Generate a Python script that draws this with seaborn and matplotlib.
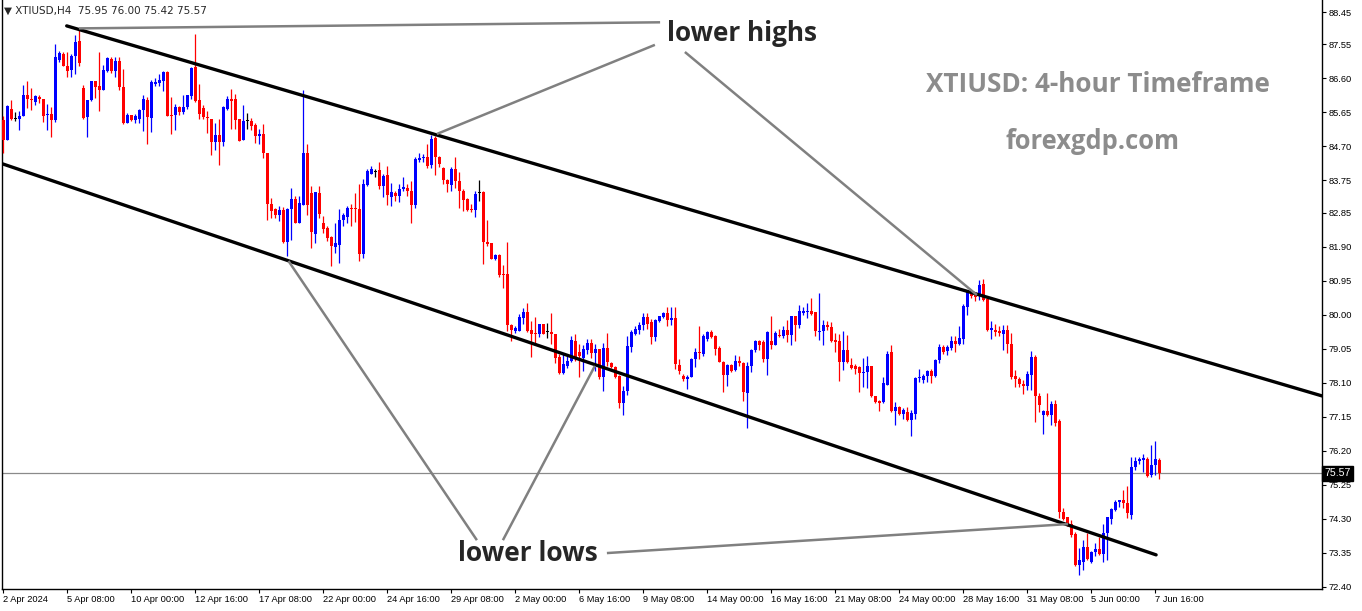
import matplotlib
matplotlib.use("Agg")
import matplotlib.pyplot as plt
import matplotlib.transforms as mtransforms
import seaborn as sns
import numpy as np

# XTIUSD H4 candles, 2 Apr 2024 - 7 Jun 2024 (one value per 4-hour bar)
opens = [85.43, 84.88, 85.75, 85.47, 85.48, 85.55, 86.15, 86.04, 85.93, 86.07,
         86.04, 85.57, 85.62, 85.44, 87.13, 87.29, 86.96, 86.83, 87.22, 87.66,
         86.33, 85.52, 86.00, 86.52, 86.38, 86.29, 86.80, 87.15, 86.81, 87.08,
         86.35, 85.37, 85.57, 85.45, 85.48, 85.72, 86.01, 85.49, 86.45, 86.46,
         86.53, 86.77, 85.59, 85.57, 85.81, 85.66, 85.80, 86.10, 86.92, 85.99,
         85.78, 85.53, 85.48, 84.83, 85.01, 84.83, 85.74, 86.04, 86.04, 85.47,
         84.88, 85.42, 85.42, 85.30, 84.99, 85.04, 84.53, 83.08, 82.94, 82.78,
         82.92, 82.04, 82.94, 83.24, 82.55, 83.06, 84.53, 83.41, 82.25, 83.39,
         82.55, 82.42, 82.16, 81.89, 81.94, 82.64, 82.73, 82.99, 82.99, 82.94,
         81.69, 83.62, 83.94, 83.99, 84.04, 83.60, 83.90, 83.29, 83.41, 83.32,
         83.52, 83.55, 83.47, 83.06, 84.32, 84.37, 84.41, 84.17, 84.93, 84.42,
         84.11, 83.75, 83.62, 84.06, 83.74, 83.47, 83.22, 82.94, 82.92, 83.41,
         83.43, 82.03, 81.99, 81.55, 81.66, 81.15, 81.13, 79.70, 79.54, 79.54,
         79.90, 80.08, 79.56, 79.50, 79.47, 79.75, 79.52, 79.52, 79.45, 78.81,
         78.38, 78.56, 78.72, 79.26, 78.95, 78.78, 79.00, 79.22, 78.94, 79.03,
         78.26, 79.06, 78.65, 78.54, 78.30, 77.53, 77.86, 79.09, 79.47, 79.58,
         79.70, 79.93, 79.79, 79.38, 79.82, 79.93, 80.05, 79.84, 79.91, 78.60,
         78.30, 78.20, 78.25, 78.76, 78.95, 78.90, 79.33, 79.52, 79.40, 79.07,
         78.69, 78.32, 78.60, 78.45, 78.70, 78.65, 77.81, 78.58, 79.00, 79.26,
         79.23, 78.77, 79.26, 79.16, 79.44, 79.40, 79.58, 79.44, 79.95, 79.72,
         80.05, 80.07, 80.11, 80.07, 79.51, 79.54, 79.70, 79.65, 79.28, 79.26,
         78.67, 79.00, 78.60, 78.56, 78.53, 78.37, 78.39, 78.56, 77.72, 77.58,
         77.55, 78.04, 78.95, 77.30, 77.41, 77.23, 77.28, 77.05, 77.23, 78.22,
         78.18, 78.28, 78.42, 78.30, 78.73, 79.09, 78.98, 79.07, 79.27, 79.19,
         79.33, 80.22, 80.61, 80.56, 80.51, 80.86, 80.44, 79.58, 79.58, 79.55,
         79.47, 79.58, 79.19, 78.30, 78.21, 78.06, 78.00, 78.32, 78.82, 77.72,
         77.21, 77.32, 77.21, 77.51, 77.02, 74.48, 74.34, 74.15, 73.88, 73.01,
         73.10, 73.50, 73.08, 73.36, 73.46, 73.32, 73.90, 74.30, 74.53, 74.76,
         74.81, 74.75, 74.41, 75.74, 75.90, 75.95, 75.98, 75.53, 75.81, 75.95]

highs = [85.55, 85.85, 85.99, 85.66, 85.69, 86.43, 86.54, 86.34, 86.13, 86.13,
         86.04, 85.90, 85.81, 87.57, 87.38, 87.34, 87.35, 87.29, 87.82, 88.02,
         86.43, 85.99, 86.54, 86.53, 87.35, 86.99, 87.20, 87.20, 87.20, 87.20,
         86.87, 85.64, 85.59, 85.61, 85.74, 86.15, 86.09, 86.57, 86.61, 86.72,
         86.82, 86.80, 86.09, 85.88, 85.83, 86.13, 86.15, 86.92, 87.83, 86.44,
         85.85, 85.69, 85.48, 85.36, 85.47, 85.83, 86.11, 86.30, 86.17, 85.47,
         85.85, 85.64, 85.50, 85.37, 85.18, 85.34, 84.53, 83.27, 82.99, 83.04,
         83.01, 82.99, 83.53, 83.31, 83.31, 86.27, 84.76, 83.59, 83.43, 83.59,
         82.76, 82.48, 82.20, 82.55, 82.94, 82.83, 83.04, 83.08, 83.41, 83.64,
         83.78, 84.06, 84.15, 84.08, 84.27, 83.92, 84.15, 83.69, 83.46, 83.64,
         83.85, 83.66, 83.74, 84.41, 84.51, 84.50, 84.78, 85.01, 84.99, 84.43,
         84.13, 83.78, 84.13, 84.41, 83.99, 83.52, 83.27, 83.08, 83.46, 83.75,
         83.46, 82.64, 82.01, 81.69, 81.69, 81.38, 82.03, 79.73, 79.68, 80.03,
         80.18, 80.32, 79.82, 79.93, 79.75, 79.75, 79.77, 80.04, 79.45, 78.89,
         78.89, 78.91, 79.40, 79.45, 79.17, 79.15, 79.33, 79.31, 79.19, 79.05,
         79.22, 79.48, 78.69, 78.58, 78.32, 78.02, 79.41, 79.56, 79.69, 79.79,
         80.05, 80.05, 79.88, 79.88, 79.97, 80.08, 80.22, 80.21, 80.21, 78.77,
         78.34, 78.32, 78.79, 79.07, 79.68, 79.46, 79.54, 79.56, 79.44, 79.12,
         78.72, 78.63, 78.63, 78.88, 78.86, 78.67, 78.68, 79.05, 79.28, 79.30,
         79.28, 79.54, 79.95, 79.54, 79.60, 79.68, 79.86, 79.97, 79.95, 80.26,
         80.21, 80.33, 80.47, 80.08, 80.61, 79.86, 79.82, 79.79, 79.49, 79.46,
         79.55, 79.44, 78.79, 78.62, 78.56, 78.79, 78.86, 78.58, 77.74, 77.63,
         78.26, 78.98, 79.14, 77.56, 77.44, 77.39, 77.42, 77.35, 78.26, 78.49,
         78.34, 78.46, 78.48, 78.76, 79.19, 79.14, 79.16, 79.41, 79.41, 79.68,
         80.30, 80.68, 80.68, 80.63, 80.96, 81.00, 80.47, 79.82, 79.74, 79.69,
         79.72, 79.70, 79.49, 78.46, 78.26, 78.18, 78.42, 78.98, 78.88, 77.81,
         77.35, 77.81, 77.58, 77.61, 77.08, 74.60, 74.36, 74.27, 73.92, 73.48,
         73.71, 73.90, 73.40, 73.62, 73.80, 74.16, 74.36, 74.61, 74.83, 74.83,
         75.09, 75.22, 76.02, 76.02, 76.02, 76.12, 76.02, 76.37, 76.46, 76.00]

lows = [84.52, 84.88, 85.44, 85.41, 85.17, 85.55, 85.78, 85.73, 85.85, 85.92,
        85.38, 85.16, 84.96, 85.38, 87.06, 86.95, 86.64, 86.64, 86.73, 86.95,
        85.48, 84.96, 85.97, 86.06, 85.69, 86.29, 86.79, 86.76, 86.64, 86.28,
        85.32, 85.36, 85.41, 85.35, 85.35, 85.13, 84.76, 85.11, 86.39, 86.38,
        86.25, 85.55, 85.04, 85.15, 85.59, 85.62, 85.75, 86.02, 85.94, 85.48,
        85.47, 85.09, 84.45, 84.61, 84.17, 84.71, 85.71, 85.20, 85.20, 84.85,
        84.88, 85.18, 85.15, 84.81, 84.76, 84.39, 82.64, 82.71, 82.71, 82.61,
        82.01, 81.64, 82.10, 82.55, 82.55, 83.06, 82.78, 81.86, 81.99, 82.71,
        82.29, 82.06, 81.36, 81.73, 81.45, 82.48, 82.55, 82.48, 82.59, 81.50,
        81.59, 83.60, 83.92, 83.85, 83.50, 83.29, 83.06, 83.04, 83.18, 83.15,
        83.46, 83.32, 82.55, 82.99, 84.27, 84.27, 84.11, 84.11, 83.90, 84.13,
        83.64, 83.44, 83.46, 83.55, 82.99, 82.90, 82.90, 82.88, 82.73, 83.18,
        81.42, 81.92, 81.55, 81.52, 81.05, 80.75, 79.54, 79.26, 79.50, 79.54,
        79.73, 79.52, 78.81, 79.17, 79.37, 79.47, 79.36, 79.17, 78.66, 78.35,
        78.35, 78.52, 78.68, 78.70, 78.26, 78.42, 78.89, 78.80, 78.42, 78.19,
        77.88, 78.56, 78.50, 78.23, 77.39, 77.19, 77.75, 78.95, 79.42, 79.46,
        79.56, 79.60, 79.18, 79.27, 79.80, 79.91, 79.68, 79.72, 78.48, 78.34,
        78.14, 77.93, 78.25, 78.53, 78.76, 78.84, 79.26, 79.35, 78.88, 78.67,
        77.84, 78.00, 78.40, 78.42, 78.56, 77.58, 76.83, 78.39, 78.95, 79.02,
        78.68, 78.31, 79.05, 79.16, 79.38, 79.35, 79.24, 79.16, 79.26, 79.63,
        80.00, 79.91, 80.00, 79.41, 79.28, 79.16, 79.58, 79.23, 78.95, 78.14,
        78.46, 78.65, 78.48, 78.35, 77.83, 77.97, 77.95, 77.70, 77.53, 77.30,
        77.53, 78.04, 77.27, 76.93, 77.19, 77.09, 77.02, 76.60, 77.09, 78.11,
        78.09, 78.12, 78.09, 78.26, 78.65, 78.91, 78.88, 79.02, 78.96, 79.14,
        79.19, 79.98, 80.47, 80.39, 80.42, 80.39, 79.55, 79.33, 79.41, 79.41,
        79.02, 78.93, 78.20, 77.97, 77.97, 77.79, 77.90, 77.89, 76.99, 77.28,
        76.67, 77.16, 76.91, 76.88, 74.32, 74.27, 74.10, 73.78, 72.99, 72.73,
        72.87, 73.15, 73.06, 73.26, 73.29, 73.10, 73.15, 74.16, 74.51, 74.64,
        74.60, 74.32, 74.30, 75.67, 75.83, 75.60, 75.46, 75.46, 75.51, 75.42]

closes = [84.88, 85.83, 85.47, 85.47, 85.54, 86.13, 86.04, 85.99, 86.10, 86.02,
          85.55, 85.59, 85.44, 87.19, 87.31, 86.96, 86.82, 87.22, 87.63, 87.03,
          85.50, 85.99, 86.53, 86.35, 86.29, 86.83, 87.17, 86.80, 87.08, 86.35,
          85.37, 85.57, 85.44, 85.54, 85.72, 86.04, 85.52, 86.49, 86.50, 86.55,
          86.77, 85.55, 85.55, 85.79, 85.66, 85.80, 86.13, 86.88, 85.97, 85.60,
          85.53, 85.50, 84.83, 85.01, 84.83, 85.80, 86.04, 85.97, 85.44, 84.85,
          85.41, 85.42, 85.27, 84.99, 85.04, 84.53, 83.10, 82.91, 82.78, 82.92,
          82.04, 82.94, 83.24, 82.55, 83.11, 84.53, 83.06, 82.31, 83.43, 82.81,
          82.39, 82.14, 81.92, 81.99, 82.64, 82.79, 82.99, 82.94, 82.94, 81.69,
          83.64, 84.01, 84.06, 83.99, 83.60, 83.88, 83.34, 83.43, 83.32, 83.52,
          83.57, 83.46, 83.06, 84.34, 84.39, 84.41, 84.16, 84.90, 84.41, 84.22,
          83.75, 83.64, 84.06, 83.74, 83.47, 83.20, 82.92, 82.92, 83.38, 83.41,
          82.03, 81.98, 81.55, 81.66, 81.10, 81.11, 79.70, 79.57, 79.62, 79.93,
          80.08, 79.54, 79.47, 79.45, 79.75, 79.47, 79.52, 79.45, 78.80, 78.38,
          78.61, 78.72, 79.28, 78.77, 78.84, 79.03, 79.22, 78.94, 79.03, 78.26,
          79.08, 78.68, 78.53, 78.25, 77.53, 77.88, 79.12, 79.51, 79.61, 79.72,
          79.93, 79.75, 79.38, 79.86, 79.95, 80.06, 79.84, 79.91, 78.62, 78.44,
          78.20, 78.25, 78.77, 78.95, 78.93, 79.40, 79.52, 79.38, 79.05, 78.67,
          78.32, 78.60, 78.44, 78.70, 78.65, 77.83, 78.58, 79.02, 79.26, 79.16,
          78.77, 79.51, 79.16, 79.49, 79.40, 79.56, 79.44, 79.95, 79.72, 80.11,
          80.09, 80.10, 80.02, 79.54, 79.54, 79.72, 79.65, 79.27, 79.23, 78.67,
          79.00, 78.67, 78.51, 78.49, 78.37, 78.39, 78.58, 77.72, 77.55, 77.53,
          78.09, 78.91, 77.32, 77.42, 77.23, 77.33, 77.05, 77.25, 78.23, 78.25,
          78.28, 78.42, 78.30, 78.74, 79.10, 78.95, 79.09, 79.27, 79.19, 79.35,
          80.23, 80.65, 80.51, 80.50, 80.84, 80.42, 79.58, 79.63, 79.51, 79.49,
          79.58, 79.18, 78.26, 78.21, 78.06, 78.00, 78.35, 78.82, 77.72, 77.49,
          77.32, 77.21, 77.51, 76.97, 74.50, 74.29, 74.16, 73.85, 73.01, 73.15,
          73.50, 73.17, 73.37, 73.46, 73.32, 73.90, 74.34, 74.58, 74.78, 74.81,
          74.74, 74.46, 75.74, 75.92, 75.97, 75.99, 75.50, 75.81, 75.98, 75.57]

# time axis labels, one every 16 bars
time_labels = ["2 Apr 2024", "5 Apr 08:00", "10 Apr 00:00", "12 Apr 16:00",
               "17 Apr 08:00", "22 Apr 00:00", "24 Apr 16:00", "29 Apr 08:00",
               "2 May 00:00", "6 May 16:00", "9 May 08:00", "14 May 00:00",
               "16 May 16:00", "21 May 08:00", "24 May 00:00", "28 May 16:00",
               "31 May 08:00", "5 Jun 00:00", "7 Jun 16:00"]
price_ticks = [88.45, 87.55, 86.60, 85.65, 84.70, 83.75, 82.85, 81.90, 80.95,
               80.00, 79.05, 78.10, 77.15, 76.20, 75.25, 74.30, 73.35, 72.40]
last_price = 75.57

# channel lines (bar index, price)
upper_bar = [15.85, 329.7]
upper_price = [88.07, 77.73]
lower_bar = [-0.33, 288.2]
lower_price = [84.22, 73.29]

# callout lines (bar index, price)
high_calls = [([18.9, 164.2], [88.00, 88.17]),
              ([162.9, 108.4], [87.54, 85.05]),
              ([170.4, 243.4], [87.34, 80.55])]
low_calls = [([118.4, 71.3], [73.70, 81.50]),
             ([124.9, 147.9], [73.70, 78.57]),
             ([150.9, 266.2], [73.34, 74.15])]

sns.set_theme(style="white")
plt.rcParams["font.family"] = ["DejaVu Sans"]

o = np.array(opens)
h = np.array(highs)
l = np.array(lows)
c = np.array(closes)
idx = np.arange(len(c))

cols = np.where(c > o, "#0000FF", np.where(c < o, "#FF0000", "#000000"))

fig = plt.figure(figsize=(13.62, 6.11), dpi=100)
ax = fig.add_axes([2 / 1362, 22 / 611, 1320 / 1362, 589 / 611])

ax.vlines(idx, l, h, colors=cols, linewidth=0.9, zorder=3)
body = np.maximum(np.abs(c - o), 0.03)
ax.bar(idx, body, bottom=np.minimum(o, c), width=0.72, color=cols,
       linewidth=0, zorder=4)

# last price line
ax.axhline(last_price, color="#8a8a8a", linewidth=0.9, zorder=1)

# channel
sns.lineplot(x=upper_bar, y=upper_price, color="black", linewidth=2.4, ax=ax, zorder=5)
sns.lineplot(x=lower_bar, y=lower_price, color="black", linewidth=2.4, ax=ax, zorder=5)

for xs, ys in high_calls + low_calls:
    ax.plot(xs, ys, color="#808080", linewidth=1.8, zorder=6, solid_capstyle="butt")

ax.text(184.7, 87.87, "lower highs", fontsize=18.8, fontweight="bold",
        family="Open Sans", ha="center", va="center", zorder=7)
ax.text(131.2, 73.34, "lower lows", fontsize=19.0, fontweight="bold",
        family="Open Sans", ha="center", va="center", zorder=7)
ax.text(273.6, 86.42, "XTIUSD: 4-hour Timeframe", fontsize=18.8, fontweight="bold",
        family="Open Sans", color="#8c8c8c", ha="center", va="center", zorder=7)
ax.text(272.4, 84.85, "forexgdp.com", fontsize=18.4, fontweight="bold",
        family="Open Sans", color="#8c8c8c", ha="center", va="center", zorder=7)

ax.set_xlim(-0.325, 329.675)
ax.set_ylim(72.336, 88.793)

ax.set_xticks(np.arange(len(time_labels)) * 16)
ax.set_xticklabels(time_labels, ha="left", fontsize=6.7, family="Liberation Sans")
ax.yaxis.tick_right()
ax.set_yticks(price_ticks)
ax.set_yticklabels([f"{v:.2f}" for v in price_ticks], fontsize=6.7,
                   family="Liberation Sans")
ax.tick_params(axis="x", direction="out", length=3, width=0.8, pad=1.5,
               bottom=True, colors="black")
ax.tick_params(axis="y", direction="out", length=3, width=0.8, pad=2.0,
               right=True, left=False, colors="black")

for side in ["left", "bottom", "right"]:
    ax.spines[side].set_color("black")
    ax.spines[side].set_linewidth(1.0)
ax.spines["top"].set_visible(False)
ax.grid(False)

# price box on the scale
trans = mtransforms.blended_transform_factory(ax.transAxes, ax.transData)
ax.text(1.0015, last_price, "75.57", transform=trans, fontsize=7.6,
        family="Liberation Sans", color="white", ha="left", va="center",
        bbox=dict(boxstyle="square,pad=0.22", fc="black", ec="black"), zorder=8)

# chart header
fig.text(4 / 1362, 1 - 11 / 611, "\u25bc XTIUSD,H4  75.95 76.00 75.42 75.57",
         fontsize=7.5, family="DejaVu Sans", ha="left", va="center")

fig.savefig("out.png", dpi=100)
